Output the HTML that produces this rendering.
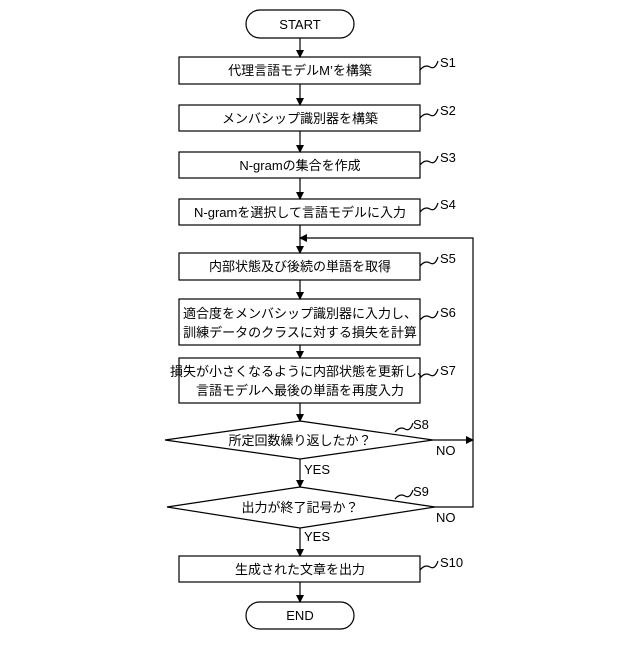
<!DOCTYPE html>
<html><head><meta charset="utf-8"><style>
body{margin:0;background:#fff}
svg text{font-family:"Liberation Sans","Noto Sans CJK JP",sans-serif;font-size:13px;fill:#000}
</style></head><body>
<svg width="640" height="640" viewBox="0 0 640 640" xmlns="http://www.w3.org/2000/svg">
<defs><marker id="a" markerWidth="8" markerHeight="8" refX="7" refY="4" orient="auto" markerUnits="userSpaceOnUse"><path d="M0,0 L8,4 L0,8 z" fill="#000"/></marker></defs>
<g stroke="#000" stroke-width="1.2" fill="none">
<rect x="246" y="10" width="108" height="28" rx="14"/>
<rect x="179" y="57" width="241" height="27"/>
<rect x="179" y="105" width="241" height="26"/>
<rect x="179" y="152" width="241" height="26"/>
<rect x="179" y="199" width="241" height="26"/>
<rect x="179" y="253" width="241" height="27"/>
<rect x="179" y="299" width="241" height="46"/>
<rect x="179" y="358" width="241" height="45"/>
<polygon points="300,421 433,440 300,459 165,440"/>
<polygon points="300,487 435,507 300,528 167,507"/>
<rect x="179" y="556" width="241" height="26"/>
<rect x="246" y="602" width="108" height="27" rx="13.5"/>
<line x1="300" y1="38" x2="300" y2="57" marker-end="url(#a)"/>
<line x1="300" y1="84" x2="300" y2="105" marker-end="url(#a)"/>
<line x1="300" y1="131" x2="300" y2="152" marker-end="url(#a)"/>
<line x1="300" y1="178" x2="300" y2="199" marker-end="url(#a)"/>
<line x1="300" y1="225" x2="300" y2="253" marker-end="url(#a)"/>
<line x1="300" y1="280" x2="300" y2="299" marker-end="url(#a)"/>
<line x1="300" y1="345" x2="300" y2="358" marker-end="url(#a)"/>
<line x1="300" y1="403" x2="300" y2="421" marker-end="url(#a)"/>
<line x1="300" y1="459" x2="300" y2="487" marker-end="url(#a)"/>
<line x1="300" y1="528" x2="300" y2="556" marker-end="url(#a)"/>
<line x1="300" y1="582" x2="300" y2="602" marker-end="url(#a)"/>
<line x1="433" y1="440" x2="473" y2="440" marker-end="url(#a)"/>
<polyline points="435,507 473,507 473,238 300,238" marker-end="url(#a)"/>
<path d="M420,70 q5,-6 10,-3 t8,-6"/>
<path d="M420,118 q5,-6 10,-3 t8,-6"/>
<path d="M420,165 q5,-6 10,-3 t8,-6"/>
<path d="M420,212 q5,-6 10,-3 t8,-6"/>
<path d="M420,266 q5,-6 10,-3 t8,-6"/>
<path d="M420,320 q5,-6 10,-3 t8,-6"/>
<path d="M420,378 q5,-6 10,-3 t8,-6"/>
<path d="M395,432 q5,-6 10,-3 t8,-6"/>
<path d="M395,499 q5,-6 10,-3 t8,-6"/>
<path d="M420,570 q5,-6 10,-3 t8,-6"/>
</g>
<g text-anchor="middle">
<text x="300" y="29">START</text>
<text x="300" y="75">代理言語モデルM’を構築</text>
<text x="300" y="123">メンバシップ識別器を構築</text>
<text x="300" y="170">N-gramの集合を作成</text>
<text x="300" y="217">N-gramを選択して言語モデルに入力</text>
<text x="300" y="271">内部状態及び後続の単語を取得</text>
<text x="300" y="318">適合度をメンバシップ識別器に入力し、</text>
<text x="300" y="337">訓練データのクラスに対する損失を計算</text>
<text x="300" y="376">損失が小さくなるように内部状態を更新し、</text>
<text x="300" y="395">言語モデルへ最後の単語を再度入力</text>
<text x="300" y="445">所定回数繰り返したか？</text>
<text x="300" y="512">出力が終了記号か？</text>
<text x="300" y="574">生成された文章を出力</text>
<text x="300" y="620">END</text>
</g>
<text x="440" y="67">S1</text><text x="440" y="115">S2</text><text x="440" y="162">S3</text><text x="440" y="209">S4</text>
<text x="440" y="263">S5</text><text x="440" y="317">S6</text><text x="440" y="375">S7</text>
<text x="413" y="429">S8</text><text x="413" y="496">S9</text><text x="440" y="567">S10</text>
<text x="436" y="455">NO</text><text x="436" y="522">NO</text>
<text x="304" y="474">YES</text><text x="304" y="541">YES</text>
</svg>
</body></html>
